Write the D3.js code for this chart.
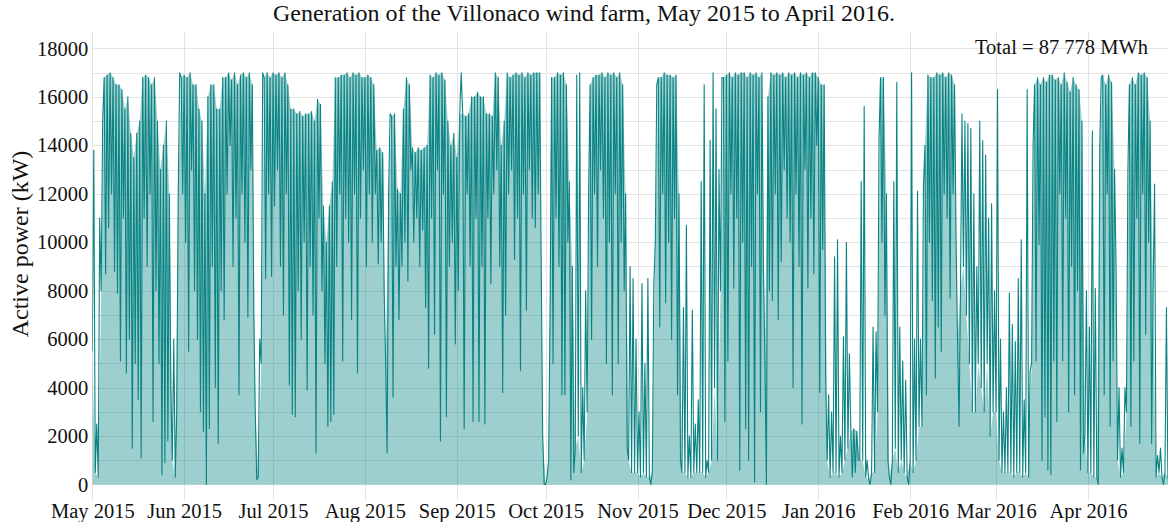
<!DOCTYPE html>
<html>
<head>
<meta charset="utf-8">
<script src="https://cdn.jsdelivr.net/npm/d3@7"></script>
<style>
  body { margin: 0; background: #fff; }
  text { font-family: "Liberation Serif", "Times New Roman", serif; fill: #111; }
</style>
</head>
<body>
<svg id="chart" width="1168" height="522"></svg>
<script>
// ── Data ──
// Active power in MW. Two readings per day:
// the level the farm mostly sat at (midnight) and the day's short excursion (noon).
const may2015 = [5.5,13.8, 0.5,2.5, 0.3,11, 8,15, 16.8,8.7, 16.9,10.6, 17,12, 16.8,8.8, 16.5,7.9, 16.5,5.1,
  16.3,11, 15.5,4.6, 16,6, 14.5,1.5, 13.5,5, 14.5,3.5, 15,1.1, 16.8,11, 16.9,9, 16.8,12,
  16.5,2.6, 16.8,8, 15,5, 13,0.4, 14,0.9, 15,1.8, 12,4, 1,6, 0.3,3, 12,17, 16.8,12];
const jun2015 = [16.9,10, 16.8,5.5, 17,13, 16.5,8, 16.5,6, 15.5,3, 15,2.2, 12,0, 16,2.3, 16.5,9,
  16.5,4, 15.5,1.7, 15.5,8, 16.8,6.8, 16.8,12, 17,14, 16.7,9, 17,11, 16.5,3.7, 16.9,12,
  17,10, 16.8,6.9, 17,13, 16.5,7, 3,0.2, 0.3,6, 5,17, 16.8,8.5, 17,12, 16.8,8.6];
const jul2015 = [17,11.5, 16.9,13, 17,9, 16.8,7, 17,12, 16.5,4.1, 15.5,2.9, 15.5,2.8, 15.3,8, 15.4,6,
  15.2,10, 15.3,3.9, 15.3,9, 15.4,7, 15,1.3, 15.9,11, 15.7,8, 11.5,5, 10,2.4, 11.5,2.6,
  12.5,2.9, 16.8,9, 16.8,12, 16.9,5.1, 16.9,11, 17,10, 16.8,6.8, 17,12, 16.9,4.6, 17,11, 16.8,13];
const aug2015 = [16.8,9, 16.9,12, 16.8,10, 16.5,12, 13.8,9.1, 13.9,10, 13.7,8, 5,1.3, 12,15.3, 15.2,3.6,
  15.3,9, 12.2,6.8, 12,9, 15.5,10, 16.8,8.4, 16.5,13, 13.9,10, 13.7,11, 13.9,9, 13.8,10.5,
  13.9,7.3, 14,4.8, 16.9,11, 16.8,6.2, 17,13, 16.9,1.8, 17,12, 16.7,2.8, 15,9, 14,10, 14.5,5.8];
const sep2015 = [13.5,8, 15.3,17, 15.3,2.3, 15.2,12, 15.3,9, 16,2.6, 16,11, 16.2,2.6, 16,9, 16,2.5,
  15.3,11, 15.3,8.3, 15.2,12, 17,13, 16.8,9, 14,3.8, 15,7, 17,12, 16.8,13, 16.9,9.3,
  17,11, 16.9,4.7, 17,12, 16.8,7.2, 17,13, 16.9,11, 17,10.6, 17,12, 17,9, 2,0];
const oct2015 = [0,0.3, 1,7.2, 16.8,5, 16.8,11, 17,9, 16.9,3.7, 17,3.7, 16.5,10, 12.5,0.2, 9,0.5,
  1.5,16.9, 2,17, 0.5,4, 1,8, 3,12, 16.5,6, 16.8,12, 16.9,9, 16.9,13, 17,11,
  16.8,5, 17,10, 16.9,3.7, 17,12, 16.8,5, 17,10, 16.5,8, 12,1.5, 1,9, 0.5,8.5, 0.5,6];
const nov2015 = [0.5,3, 0.3,8.3, 0.5,5, 0.3,8.5, 0.3,0, 0.5,8.2, 10,16.5, 16.8,6.5, 16.8,12, 17,7.5,
  16.9,10, 16.9,6, 16.8,11, 16.9,3.7, 12,1, 0.5,7.3, 0.5,10.7, 0.3,2, 0.3,7.2, 0.5,2.5,
  0.5,3.5, 0.5,12.5, 0.5,16.5, 0.3,1, 0.5,14.2, 1,17, 4,15.5, 1,13, 8,16.8, 16.8,2.6];
const dec2015 = [16.9,5.1, 17,12, 16.8,8.1, 17,11, 16.9,0.6, 17,10, 17,2.3, 16.8,1, 17,9, 16.9,0.1,
  17,12, 16.8,3, 17,9, 5,0, 16,8, 17,7.6, 16.9,12, 17,6.8, 16.9,9.2, 17,13,
  16.8,11, 17,10, 16.9,4, 17,12, 16.8,9, 17,2.5, 16.9,13, 17,8.1, 16.8,11, 17,8.7, 17,14];
const jan2016 = [16.8,3.8, 16.5,9.7, 16.5,4.4, 1,3.7, 0.3,3, 0.5,9.4, 0.5,10.1, 0.3,2, 0.5,6.1, 1,10,
  1.5,5.4, 2.2,0.3, 2.3,0.5, 2.2,1, 1,12.5, 1,15.6, 0.3,1, 0.2,0, 0.5,6.5, 0.5,6.3,
  3,14.2, 16.8,10, 16.8,7, 12,1, 0.3,0, 1,12.5, 1.5,16.6, 0.5,6.5, 1,5.1, 0.5,4.3, 0.3,0];
const feb2016 = [1,17, 0.5,6, 1,12.1, 2.4,6, 2.4,12.3, 14,3.7, 16.9,10, 16.8,7.6, 16.8,4.4, 17,6.5,
  16.9,5.5, 17,12, 16.8,11, 17,7.7, 16.9,12, 16.5,10.1, 6,2.4, 8,15.3, 9,15, 7,14.9,
  5,14.7, 3,12, 3,9, 5,15, 4,14.2, 3,13.6, 5,11, 2,11.6, 3,8];
const mar2016 = [3,16.3, 1,6, 0.5,3, 0.5,4, 0.5,7.9, 0.5,6.6, 0.3,5.9, 0.5,8.5, 0.5,10.1, 0.3,3.5,
  0.5,16.3, 0.3,4.7, 5,14, 16.5,5.1, 16.8,9.9, 16.5,1, 16.8,2.8, 16.6,0.6, 16.9,0.4, 16.9,5.1,
  16.7,2.6, 16.8,12, 16.5,5.1, 17,11, 16.6,3, 16.2,9, 16.8,3.7, 16.5,8, 16.3,0.6, 15,1.3, 2,8];
const apr2016 = [0.5,6.5, 0.5,14.6, 0.3,8.1, 0.3,0, 14,16.8, 16.9,3.7, 16.5,12, 16.9,2.4, 16.6,5.1, 13,9,
  1,4, 0.3,1.5, 0.5,4, 3,13, 16.5,2.4, 16.8,5.1, 16.5,11, 17,1.7, 16.9,12, 17,6.2,
  16.8,10, 15,1.7, 8,12.4, 0.3,1.2, 0.5,1.5, 0.3,0, 0.5,7.3, 0.3,0, 0.3,0.6, 0.2,0];

const monthSeries = [may2015, jun2015, jul2015, aug2015, sep2015, oct2015,
  nov2015, dec2015, jan2016, feb2016, mar2016, apr2016];
const monthStarts = ["2015-05-01", "2015-06-01", "2015-07-01", "2015-08-01", "2015-09-01", "2015-10-01",
  "2015-11-01", "2015-12-01", "2016-01-01", "2016-02-01", "2016-03-01", "2016-04-01"];
const monthLabels = ["May 2015", "Jun 2015", "Jul 2015", "Aug 2015", "Sep 2015", "Oct 2015",
  "Nov 2015", "Dec 2015", "Jan 2016", "Feb 2016", "Mar 2016", "Apr 2016"];
const yTickValues = [0, 2000, 4000, 6000, 8000, 10000, 12000, 14000, 16000, 18000];
const yGridValues = d3.range(0, 19000, 1000);
const titleText = "Generation of the Villonaco wind farm, May 2015 to April 2016.";
const totalText = "Total = 87 778 MWh";
const yLabelText = "Active power  (kW)";

// ── Build points ──
const parse = d3.utcParse("%Y-%m-%d");
const monthDates = monthStarts.map(parse);
const points = [];
monthSeries.forEach((vals, m) => {
  vals.forEach((v, i) => {
    points.push({ t: d3.utcHour.offset(monthDates[m], 12 * i), kw: v * 1000, level: i % 2 === 0 });
  });
});
const levelPoints = points.filter(p => p.level);

// ── Layout ──
const W = 1168, H = 522;
const plot = { left: 92.3, right: W, top: 32, bottom: 500 };

const x = d3.scaleUtc()
  .domain([parse("2015-05-01"), parse("2016-05-01")])
  .range([plot.left, 1176.8]);

const y = d3.scaleLinear()
  .domain([-640, 18680])
  .range([plot.bottom, plot.top]);

const svg = d3.select("#chart");

svg.append("defs").append("clipPath").attr("id", "plot-clip")
  .append("rect")
  .attr("x", plot.left).attr("y", plot.top)
  .attr("width", plot.right - plot.left).attr("height", plot.bottom - plot.top);

// ── Grid ──
const grid = svg.append("g").attr("stroke", "#e3e3e3").attr("stroke-width", 1);
grid.selectAll("line.h")
  .data(yGridValues)
  .join("line")
  .attr("class", "h")
  .attr("x1", plot.left).attr("x2", plot.right)
  .attr("y1", d => Math.round(y(d)) + 0.5).attr("y2", d => Math.round(y(d)) + 0.5);
grid.selectAll("line.v")
  .data(monthDates)
  .join("line")
  .attr("class", "v")
  .attr("x1", d => Math.round(x(d)) + 0.5).attr("x2", d => Math.round(x(d)) + 0.5)
  .attr("y1", plot.top).attr("y2", plot.bottom);

// ── Area + line ──
const series = svg.append("g").attr("clip-path", "url(#plot-clip)");

series.append("path")
  .datum(levelPoints)
  .attr("fill", "#008080")
  .attr("fill-opacity", 0.38)
  .attr("d", d3.area().x(d => x(d.t)).y0(y(0)).y1(d => y(d.kw)));

series.append("path")
  .datum(points)
  .attr("fill", "none")
  .attr("stroke", "#0a8383")
  .attr("stroke-width", 1.1)
  .attr("stroke-linejoin", "round")
  .attr("d", d3.line().x(d => x(d.t)).y(d => y(d.kw)));

// ── Axes ──
const xAxis = svg.append("g")
  .attr("transform", `translate(0,${plot.bottom})`)
  .call(d3.axisBottom(x)
    .tickValues(monthDates)
    .tickFormat((d, i) => monthLabels[i])
    .tickSize(0)
    .tickPadding(3));
xAxis.select(".domain").remove();
xAxis.selectAll("text").style("font-size", "20.5px");

const yAxis = svg.append("g")
  .attr("transform", `translate(${plot.left},0)`)
  .call(d3.axisLeft(y)
    .tickValues(yTickValues)
    .tickFormat(d3.format("d"))
    .tickSize(0)
    .tickPadding(4));
yAxis.select(".domain").remove();
yAxis.selectAll("text").style("font-size", "20.5px");

// ── Labels ──
svg.append("text")
  .attr("x", 584).attr("y", 21)
  .attr("text-anchor", "middle")
  .style("font-size", "24px")
  .text(titleText);

svg.append("text")
  .attr("x", 1148).attr("y", 54)
  .attr("text-anchor", "end")
  .style("font-size", "20.5px")
  .text(totalText);

svg.append("text")
  .attr("transform", "translate(28,244) rotate(-90)")
  .attr("text-anchor", "middle")
  .style("font-size", "24px")
  .text(yLabelText);
</script>
</body>
</html>
